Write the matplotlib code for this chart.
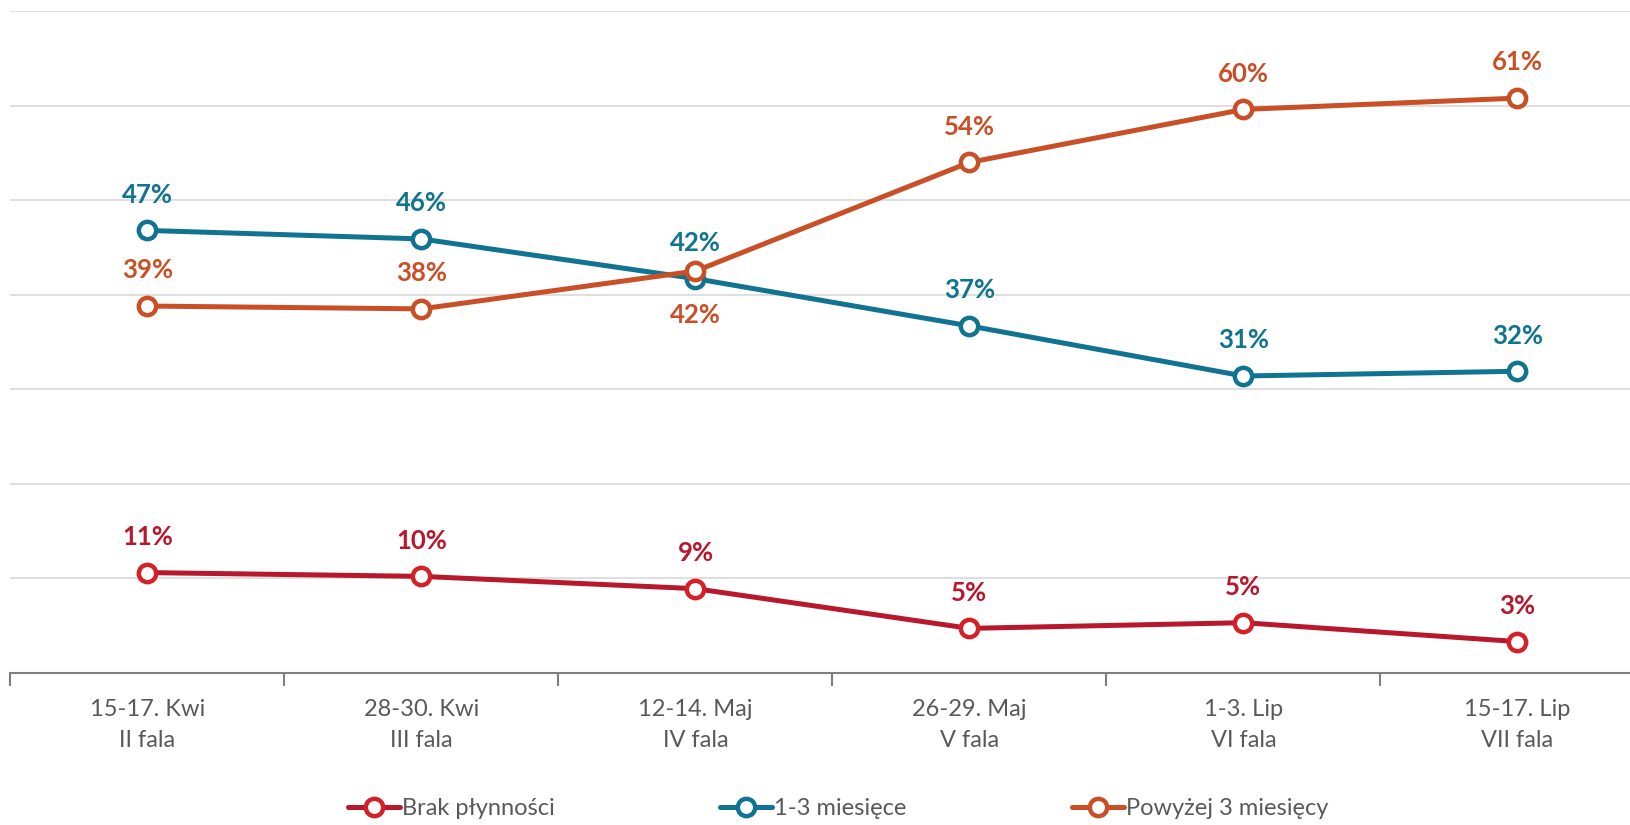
import matplotlib
matplotlib.use("Agg")
import matplotlib.pyplot as plt
import numpy as np

plt.rcParams['font.family'] = ['Lato', 'DejaVu Sans']

categories = ["15-17. Kwi\nII fala", "28-30. Kwi\nIII fala", "12-14. Maj\nIV fala",
              "26-29. Maj\nV fala", "1-3. Lip\nVI fala", "15-17. Lip\nVII fala"]
brak = [10.6, 10.2, 8.9, 4.7, 5.3, 3.3]
brak_lbl = ["11%", "10%", "9%", "5%", "5%", "3%"]
mies13 = [46.8, 45.9, 41.7, 36.7, 31.4, 31.9]
mies13_lbl = ["47%", "46%", "42%", "37%", "31%", "32%"]
powyzej = [38.8, 38.5, 42.5, 54.0, 59.6, 60.8]
powyzej_lbl = ["39%", "38%", "42%", "54%", "60%", "61%"]

red, red_m = "#B8182B", "#D42027"
teal = "#0F7391"
orange = "#C94F27"

fig = plt.figure(figsize=(16.31, 8.25), dpi=100)
ax = fig.add_axes([0.0064, 0.1845, 1.008, 0.802])

x = np.arange(len(categories))
series = [
    (brak, brak_lbl, red, red_m, "Brak płynności", [17] * 6),
    (mies13, mies13_lbl, teal, teal, "1-3 miesięce", [17] * 6),
    (powyzej, powyzej_lbl, orange, orange, "Powyżej 3 miesięcy", [17, 17, -23, 17, 17, 17]),
]
for vals, lbls, col, mcol, name, offs in series:
    ax.plot(x, vals, color=col, lw=3.6, marker="o", ms=12.5, mfc="white",
            mec=mcol, mew=3.2, label=name, solid_capstyle="round")
    for xi, v, t, o in zip(x, vals, lbls, offs):
        ax.annotate(t, (xi, v), xytext=(0, o), textcoords="offset points",
                    ha="center", va="bottom" if o > 0 else "top",
                    fontsize=18.5, fontweight="bold", color=col)

ax.set_xlim(-0.5, len(categories) - 0.5)
ax.set_ylim(0, 70)
ax.set_yticks(np.arange(10, 71, 10))
ax.yaxis.grid(True, color="#D9D9D9", lw=1.2)
ax.set_axisbelow(True)
ax.tick_params(axis="y", left=False, labelleft=False)
ax.set_xticks(x)
ax.set_xticklabels(categories, fontsize=17, color="#595959", linespacing=1.55)
ax.set_xticks(np.arange(-0.5, len(categories), 1), minor=True)
ax.tick_params(axis="x", which="major", length=0, pad=19)
ax.tick_params(axis="x", which="minor", length=9, width=1.5, color="#7F7F7F", direction="out")
for s in ["top", "right", "left"]:
    ax.spines[s].set_visible(False)
ax.spines["bottom"].set_color("#7F7F7F")
ax.spines["bottom"].set_linewidth(1.5)

leg = fig.legend(loc="center", bbox_to_anchor=(0.514, 0.02), ncol=3, frameon=False,
                 fontsize=17, handlelength=2.2, handletextpad=0.1, columnspacing=7.0)
for t in leg.get_texts():
    t.set_color("#595959")

fig.savefig("out.png", dpi=100)
